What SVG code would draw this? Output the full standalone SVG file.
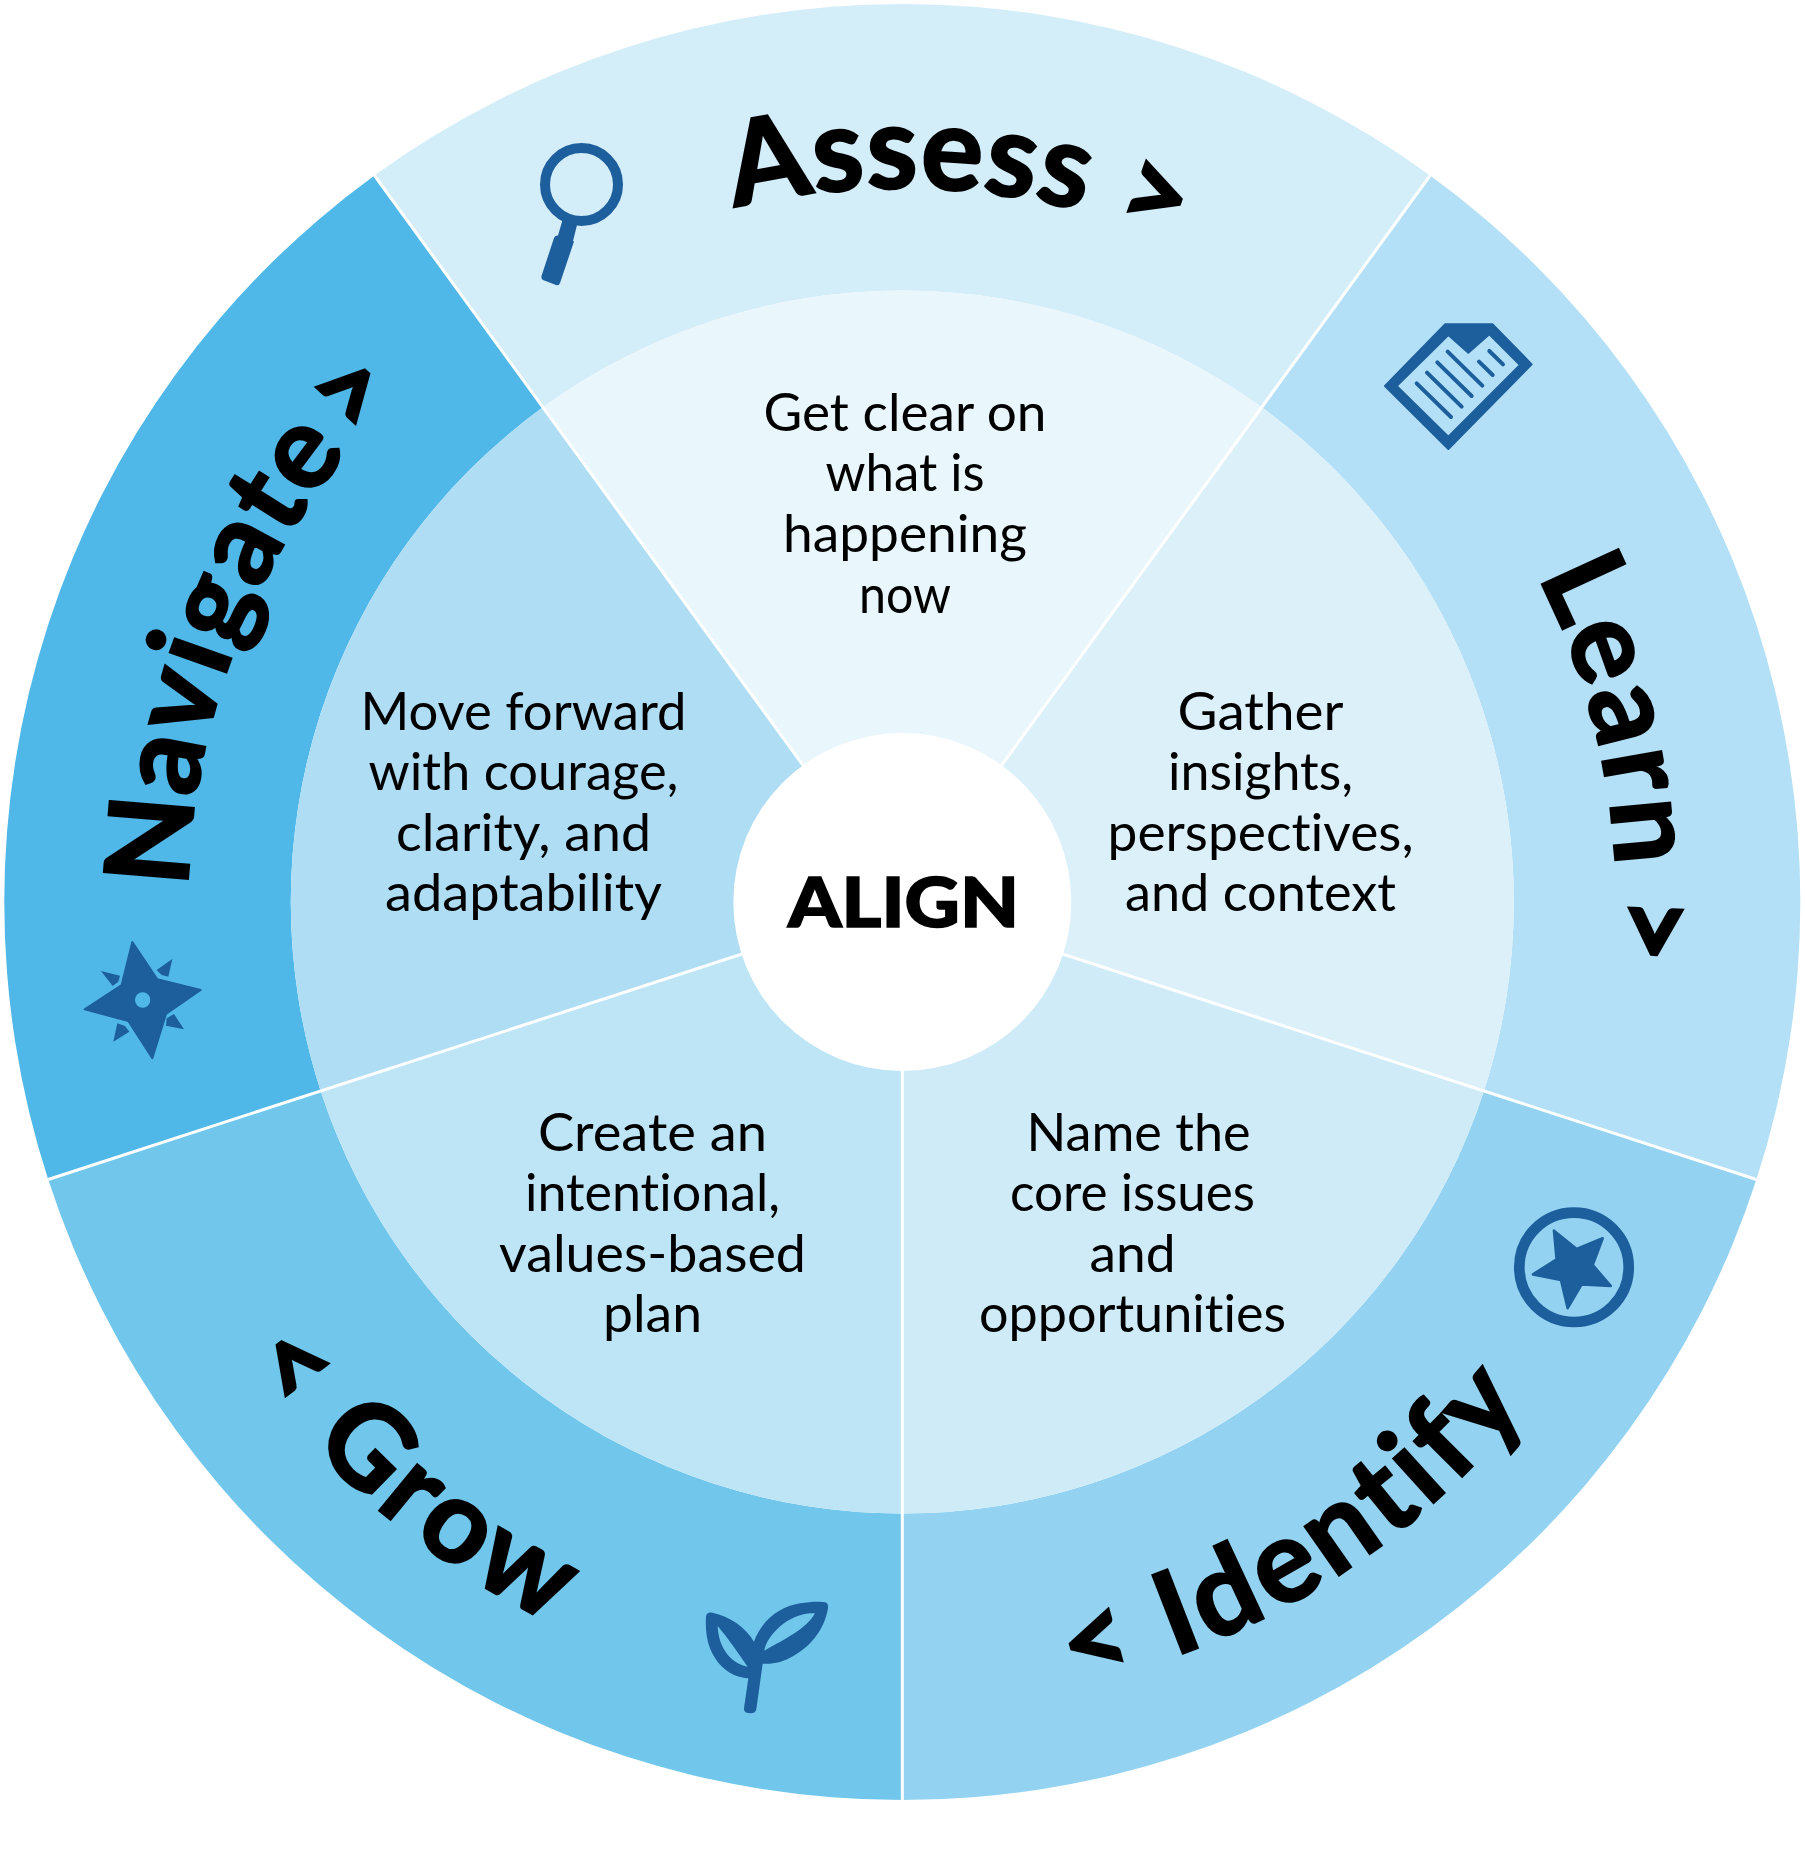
<svg xmlns="http://www.w3.org/2000/svg" width="1805" height="1855" viewBox="0 0 1805 1855">
<style>
text{font-variant-ligatures:none}
.body{font-family:"Lato","Liberation Sans",sans-serif;font-size:52px;fill:#000;text-anchor:middle}
.head{font-family:"Lato","Liberation Sans",sans-serif;font-size:116px;font-weight:700;fill:#000;stroke:#000;stroke-width:2.5px;text-anchor:middle}
.ic{fill:#1d5e9c}
.icl{fill:none;stroke:#1d5e9c;stroke-linecap:round}
.sep{stroke:#fff;stroke-width:3;fill:none}
</style>
<defs>
<path id="cw" d="M188.3 902A714 714 0 0 1 1616.3 902"/>
<path id="ccw" d="M100.3 902A802 802 0 0 0 1704.3 902"/>
</defs>
<rect width="1805" height="1855" fill="#fff"/>
<g id="node-assess">
<path d="M374.5 175.5A898 898 0 0 1 1430.1 175.5L1261.7 407.3A611.5 611.5 0 0 0 542.9 407.3Z" fill="#d3edf9"/>
<path d="M542.9 407.3A611.5 611.5 0 0 1 1261.7 407.3L902.3 902Z" fill="#e9f6fc"/>
<text class="head" letter-spacing="1" transform="rotate(4.5 902.3 902)"><textPath href="#cw" startOffset="50%">Assess &gt;</textPath></text>
<circle cx="581.5" cy="184.5" r="36.5" fill="none" stroke="#1d5e9c" stroke-width="10"/>
<path class="ic" d="M562.5 220L577 225L573 241L574 241.5L560 283Q559 286 556 285L543 280Q541 279 541.5 276L554 238Q555 235 558 235.5Z"/>
<text class="body" x="905" y="430.5" textLength="283" lengthAdjust="spacingAndGlyphs">Get clear on</text>
<text class="body" x="905" y="491" textLength="159" lengthAdjust="spacingAndGlyphs">what is</text>
<text class="body" x="905" y="552" textLength="244" lengthAdjust="spacingAndGlyphs">happening</text>
<text class="body" x="905" y="612.5" textLength="92" lengthAdjust="spacingAndGlyphs">now</text>
</g>
<g id="node-learn">
<path d="M1430.1 175.5A898 898 0 0 1 1756.4 1179.5L1483.9 1091A611.5 611.5 0 0 0 1261.7 407.3Z" fill="#b3e0f6"/>
<path d="M1261.7 407.3A611.5 611.5 0 0 1 1483.9 1091L902.3 902Z" fill="#dcf0fa"/>
<text class="head" letter-spacing="4" word-spacing="-8" transform="rotate(79 902.3 902)"><textPath href="#cw" startOffset="50%">Learn &gt;</textPath></text>
<g transform="translate(1350 300) scale(.3333)">
<path class="ic" fill-rule="evenodd" d="M105 258L285 73H428L545 193L295 447ZM140 258L295 410L510 195L418 103L355 158L295 105Z" stroke="#1d5e9c" stroke-width="6" stroke-linejoin="round"/>
<g class="icl" stroke-width="12">
<path d="M293 155L397 257M262 187L365 288M231 218L335 320M200 250L303 351M387 185L428 225M418 153L459 193"/>
</g>
</g>
<text class="body" x="1260.5" y="729.5" textLength="166" lengthAdjust="spacingAndGlyphs">Gather</text>
<text class="body" x="1260.5" y="789.5" textLength="185" lengthAdjust="spacingAndGlyphs">insights,</text>
<text class="body" x="1260.5" y="850.5" textLength="306" lengthAdjust="spacingAndGlyphs">perspectives,</text>
<text class="body" x="1260.5" y="910.5" textLength="271" lengthAdjust="spacingAndGlyphs">and context</text>
</g>
<g id="node-identify">
<path d="M1756.4 1179.5A898 898 0 0 1 902.3 1800V1513.5A611.5 611.5 0 0 0 1483.9 1091Z" fill="#93d3f1"/>
<path d="M1483.9 1091A611.5 611.5 0 0 1 902.3 1513.5V902Z" fill="#cfebf8"/>
<text class="head" letter-spacing="5.5" transform="rotate(-31.9 902.3 902)"><textPath href="#ccw" startOffset="50%">&lt; Identify</textPath></text>
<circle cx="1574" cy="1267.3" r="54.7" fill="none" stroke="#1d5e9c" stroke-width="10.7"/>
<g transform="translate(1490 1190) scale(.3333)">
<path class="ic" stroke="#1d5e9c" stroke-width="8" stroke-linejoin="round" d="M192 122L260 177L338 145L308 225L362 288L275 283L233 354L213 270L129 253L200 208Z"/>
</g>
<text class="body" x="1138.5" y="1150.5" textLength="224" lengthAdjust="spacingAndGlyphs">Name the</text>
<text class="body" x="1132.5" y="1210.5" textLength="245" lengthAdjust="spacingAndGlyphs">core issues</text>
<text class="body" x="1132.5" y="1271.5" textLength="86" lengthAdjust="spacingAndGlyphs">and</text>
<text class="body" x="1132.5" y="1331.5" textLength="307" lengthAdjust="spacingAndGlyphs">opportunities</text>
</g>
<g id="node-grow">
<path d="M902.3 1800A898 898 0 0 1 48.2 1179.5L320.7 1091A611.5 611.5 0 0 0 902.3 1513.5Z" fill="#71c6eb"/>
<path d="M902.3 1513.5A611.5 611.5 0 0 1 320.7 1091L902.3 902Z" fill="#bee5f6"/>
<text class="head" letter-spacing="6" transform="rotate(40.4 902.3 902)"><textPath href="#ccw" startOffset="50%">&lt; Grow</textPath></text>
<g transform="translate(680 1570) scale(.3333)">
<path class="ic" fill-rule="evenodd" d="M222 215C245 150 300 110 360 100C390 95 420 94 435 97Q446 100 444 115C435 170 400 225 340 258C310 276 280 283 248 281L229 418Q227 430 212 430Q190 430 192 415L205 325C150 322 110 285 90 235C78 205 76 165 78 140Q80 125 97 128C150 140 195 170 222 215ZM253 242C260 195 330 125 405 130C380 175 320 205 253 242ZM113 168C115 230 150 280 203 290C175 250 145 205 113 168Z"/>
</g>
<text class="body" x="652.5" y="1150.5" textLength="229" lengthAdjust="spacingAndGlyphs">Create an</text>
<text class="body" x="652.5" y="1210.5" textLength="255" lengthAdjust="spacingAndGlyphs">intentional,</text>
<text class="body" x="652.5" y="1271.5" textLength="307" lengthAdjust="spacingAndGlyphs">values-based</text>
<text class="body" x="652.5" y="1331.5" textLength="99" lengthAdjust="spacingAndGlyphs">plan</text>
</g>
<g id="node-navigate">
<path d="M48.2 1179.5A898 898 0 0 1 374.5 175.5L542.9 407.3A611.5 611.5 0 0 0 320.7 1091Z" fill="#50b8e9"/>
<path d="M320.7 1091A611.5 611.5 0 0 1 542.9 407.3L902.3 902Z" fill="#aeddf4"/>
<text class="head" letter-spacing="2" word-spacing="-20" transform="rotate(-66.6 902.3 902)"><textPath href="#cw" startOffset="50%">Navigate &gt;</textPath></text>
<g transform="translate(60 920) scale(.3333)">
<path class="ic" stroke="#1d5e9c" stroke-width="6" stroke-linejoin="round" d="M217 66L292 178L422 210L318 282L277 415L205 303L74 268L185 195Z"/>
<circle cx="248" cy="240" r="23" fill="#50b8e9"/>
<path class="ic" d="M337 117L290 150L305 165L325 170ZM123 153L180 167L175 185L158 198ZM372 328L342 282L320 295L318 317ZM160 365L208 335L195 318L172 310Z"/>
</g>
<text class="body" x="523.5" y="729.5" textLength="326" lengthAdjust="spacingAndGlyphs">Move forward</text>
<text class="body" x="523.5" y="789.5" textLength="310" lengthAdjust="spacingAndGlyphs">with courage,</text>
<text class="body" x="523.5" y="850.5" textLength="255" lengthAdjust="spacingAndGlyphs">clarity, and</text>
<text class="body" x="523.5" y="910.5" textLength="277" lengthAdjust="spacingAndGlyphs">adaptability</text>
</g>
<g id="connectors">
<path class="sep" d="M902.3 902L1430.1 175.5M902.3 902L374.5 175.5M902.3 902L1756.4 1179.5M902.3 902L48.2 1179.5M902.3 902V1800"/>
</g>
<g id="node-align">
<circle cx="902.3" cy="902" r="169" fill="#fff"/>
<text x="903.5" y="927" font-family="Lato,'Liberation Sans',sans-serif" font-weight="900" font-size="68.5" text-anchor="middle" stroke="#000" stroke-width="1.5" textLength="231" lengthAdjust="spacingAndGlyphs">ALIGN</text>
</g>
</svg>
